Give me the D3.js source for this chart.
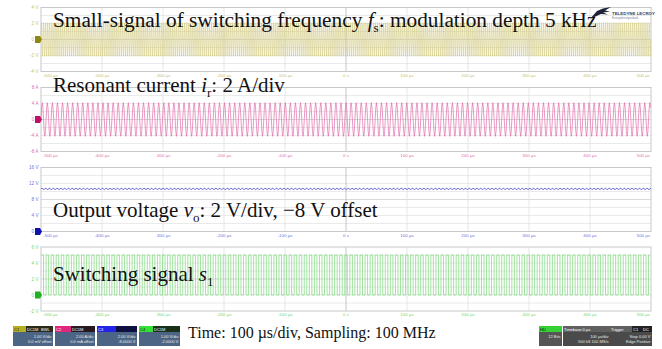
<!DOCTYPE html>
<html><head><meta charset="utf-8">
<script src="https://cdn.jsdelivr.net/npm/d3@7"></script>
<style>body{margin:0;background:#fff}svg{display:block}</style>
</head><body>
<svg id="chart" width="662" height="349"></svg>
<script>
// ---------------- data ----------------
const timeTicks = [-500,-400,-300,-200,-100,0,100,200,300,400,500];
const timeLabels = ["-500 µs","-400 µs","-300 µs","-200 µs","-100 µs","0 s","100 µs","200 µs","300 µs","400 µs","500 µs"];

const c1TickValues = [4,2,0,-2,-4];
const c1TickLabels = ["4 V","2 V","0 V","-2 V","-4 V"];
const c2TickValues = [8,4,0,-4,-8];
const c2TickLabels = ["8 A","4 A","0 A","-4 A","-8 A"];
const c3TickValues = [16,12,8,4,0];
const c3TickLabels = ["16 V","12 V","8 V","4 V","0 V"];
const c4TickValues = [6,4,2,0,-2];
const c4TickLabels = ["6 V","4 V","2 V","0 V","-2 V"];

const c1Cycle = [0, 1.5, 2.1, 1.5, 0, -1.5, -2.1, -1.5];
const c1Period = 3.4;
const c2Cycle = [0, 3.0, 4.2, 3.0, 0, -3.0, -4.2, -3.0];
const c2Period = 8.3;
const c3Cycle = [10.6, 10.85, 10.65, 10.5];
const c3Period = 6.2;
const c4Cycle = [5, 5, 0, 0];
const c4Period = 8.3;

const captions = [
  [{t:"Small-signal of switching frequency "},{t:"f",i:1},{t:"s",sub:1},{t:": modulation depth 5 kHz"}],
  [{t:"Resonant current "},{t:"i",i:1},{t:"r",sub:1},{t:": 2 A/div"}],
  [{t:"Output voltage "},{t:"v",i:1},{t:"o",sub:1},{t:": 2 V/div, \u22128 V offset"}],
  [{t:"Switching signal "},{t:"s",i:1},{t:"1",sub:1}],
  [{t:"Time: 100 \u00b5s/div, Sampling: 100 MHz"}]
];

// ---------------- layout ----------------
const svg = d3.select("#chart");
const X0 = 41, X1 = 651;
const x = d3.scaleLinear().domain([-500,500]).range([X0,X1]);

const panels = [
  {top:7.5,  dom:[-4,4],  ticks:c1TickValues, labels:c1TickLabels, cycle:c1Cycle, period:c1Period, color:"#d2ca80", lab:"#c8c070", mark:"#8e8a10", curve:d3.curveLinear, sw:0.6},
  {top:87.5, dom:[-8,8],  ticks:c2TickValues, labels:c2TickLabels, cycle:c2Cycle, period:c2Period, color:"#de62a6", lab:"#e070a8", mark:"#c0106a", curve:d3.curveLinear, sw:0.65},
  {top:167.5,dom:[0,16],  ticks:c3TickValues, labels:c3TickLabels, cycle:c3Cycle, period:c3Period, color:"#3c3cc8", lab:"#7070e0", mark:"#1010b0", curve:d3.curveLinear, sw:0.8},
  {top:247,  dom:[-2,6],  ticks:c4TickValues, labels:c4TickLabels, cycle:c4Cycle, period:c4Period, color:"#78d878", lab:"#70d870", mark:"#20b020", curve:d3.curveStepAfter, sw:0.7}
];
const PH = 64;

panels.forEach((p,pi)=>{
  const y = d3.scaleLinear().domain(p.dom).range([p.top+PH, p.top]);
  const g = svg.append("g");
  const step = (p.dom[1]-p.dom[0])/8;
  for(let k=1;k<8;k++){
    const v = p.dom[0]+k*step;
    g.append("line").attr("x1",X0).attr("x2",X1).attr("y1",y(v)).attr("y2",y(v))
      .attr("stroke", k===4 ? "#cfcfcf" : "#e4e4e4").attr("stroke-width",0.8);
  }
  timeTicks.slice(1,-1).forEach(t=>{
    g.append("line").attr("x1",x(t)).attr("x2",x(t)).attr("y1",p.top).attr("y2",p.top+PH)
      .attr("stroke", t===0 ? "#b8b8b8" : "#e0e0e0").attr("stroke-width",0.8);
  });
  g.append("rect").attr("x",X0).attr("y",p.top).attr("width",X1-X0).attr("height",PH)
    .attr("fill","none").attr("stroke","#c8c8c8").attr("stroke-width",1);

  const pts = [];
  const n = p.cycle.length;
  const nCycles = Math.ceil(1000/p.period)+1;
  for(let k=0;k<nCycles;k++){
    for(let j=0;j<n;j++){
      const t = -500 + (k + j/n)*p.period;
      if(t>500) break;
      pts.push([t, p.cycle[j]]);
    }
  }
  g.append("path").datum(pts)
    .attr("d", d3.line().x(d=>x(d[0])).y(d=>y(d[1])).curve(p.curve))
    .attr("fill","none").attr("stroke",p.color).attr("stroke-width",p.sw);

  p.ticks.forEach((v,i)=>{
    g.append("text").attr("x",38.5).attr("y",y(v)+1.6).attr("text-anchor","end")
      .attr("font-family","Liberation Sans, Arial, sans-serif").attr("font-size",4.6)
      .attr("fill",p.lab).text(p.labels[i]);
  });
  timeTicks.forEach((t,i)=>{
    const anchor = i===0 ? "start" : (i===timeTicks.length-1 ? "end" : "middle");
    const xx = i===0 ? X0+2 : (i===timeTicks.length-1 ? X1-1 : x(t));
    g.append("text").attr("x",xx).attr("y",p.top+PH+5.2).attr("text-anchor",anchor)
      .attr("font-family","Liberation Sans, Arial, sans-serif").attr("font-size",4.4)
      .attr("fill",p.lab).text(timeLabels[i]);
  });
  const zy = y(0);
  g.append("path").attr("d",`M35,${zy-3.5}h5l2,3.5l-2,3.5h-5z`).attr("fill",p.mark);
});

// ---------------- logo ----------------
const logo = svg.append("g");
logo.append("path").attr("d","M590,19 L597,11 L603,8.5 L611,7 L605,10.5 L610,11.5 L603,12.5 L608,14.5 L601,14 Z").attr("fill","#1e2336");
logo.append("text").attr("x",612).attr("y",14.5).attr("font-family","Liberation Sans, Arial, sans-serif")
  .attr("font-size",4.4).attr("font-weight","bold").attr("fill","#3a4060").text("TELEDYNE LECROY");
logo.append("text").attr("x",612).attr("y",19).attr("font-family","Liberation Sans, Arial, sans-serif")
  .attr("font-size",3).attr("fill","#7a8090").text("Everywhereyoulook");

// ---------------- captions ----------------
const capPos = [[53,27],[53,92],[53,217],[53,281],[188,338]];
const capSize = [21.3,21,21,21,16];
captions.forEach((c,ci)=>{
  const fs = capSize[ci];
  const t = svg.append("text").attr("x",capPos[ci][0]).attr("y",capPos[ci][1])
    .attr("font-family","Liberation Serif, Times New Roman, serif").attr("font-size",fs).attr("fill","#111");
  c.forEach((s,si)=>{
    const ts = t.append("tspan").text(s.t);
    if(s.i) ts.attr("font-style","italic");
    if(s.sub) ts.attr("font-size",fs*0.62).attr("dy",fs*0.22);
    else if(si>0 && c[si-1].sub) ts.attr("dy",-fs*0.22);
  });
});

// ---------------- info boxes ----------------
function box(bx, w, head, body){
  const g = svg.append("g");
  let cx = bx;
  head.forEach(h=>{
    g.append("rect").attr("x",cx).attr("y",326).attr("width",h.w).attr("height",6).attr("fill",h.bg);
    g.append("text").attr("x",cx+1).attr("y",330.6).attr("font-family","Liberation Sans, Arial, sans-serif")
      .attr("font-size",4).attr("fill",h.fg||"#fff").text(h.t);
    cx += h.w;
  });
  g.append("rect").attr("x",bx).attr("y",332).attr("width",w).attr("height",14).attr("fill",body.bg);
  body.lines.forEach((l,i)=>{
    g.append("text").attr("x",bx+w-1.5).attr("y",337.5+i*5.5).attr("text-anchor","end")
      .attr("font-family","Liberation Sans, Arial, sans-serif").attr("font-size",4).attr("fill","#e8e8e8").text(l);
  });
}
box(13,40,[{t:"C1",w:13,bg:"#b5ad22",fg:"#222"},{t:"DC1M",w:14,bg:"#2a2a18"},{t:"BWL",w:13,bg:"#2a2a18"}],{bg:"#4d6584",lines:["1.00 V/div","0.0 mV offset"]});
box(55,40,[{t:"C2",w:16,bg:"#e0267e"},{t:"DC1M",w:13,bg:"#2a1820"},{t:"",w:11,bg:"#2a1820"}],{bg:"#4d6584",lines:["2.00 A/div","0.0 mA offset"]});
box(97,40,[{t:"C3",w:19,bg:"#2424e8"},{t:"",w:21,bg:"#101040"}],{bg:"#4d6584",lines:["2.00 V/div","-8.0000 V"]});
box(139,41,[{t:"C4",w:14,bg:"#36e036",fg:"#111"},{t:"DC1M",w:14,bg:"#183018"},{t:"",w:13,bg:"#183018"}],{bg:"#4d6584",lines:["1.00 V/div","-2.0000 V"]});
box(539,23,[{t:"HD",w:23,bg:"#36d036",fg:"#111"}],{bg:"#555",lines:["12 Bits"]});
box(563,47,[{t:"Timebase          0 µs",w:47,bg:"#606060"}],{bg:"#4a4a4a",lines:["100 µs/div","500 kS  100 MS/s"]});
box(610,42,[{t:"Trigger",w:22,bg:"#606060"},{t:"C1",w:10,bg:"#222"},{t:"DC",w:10,bg:"#222"}],{bg:"#4a4a4a",lines:["Stop      0.00 V","Edge   Positive"]});
</script>
</body></html>
